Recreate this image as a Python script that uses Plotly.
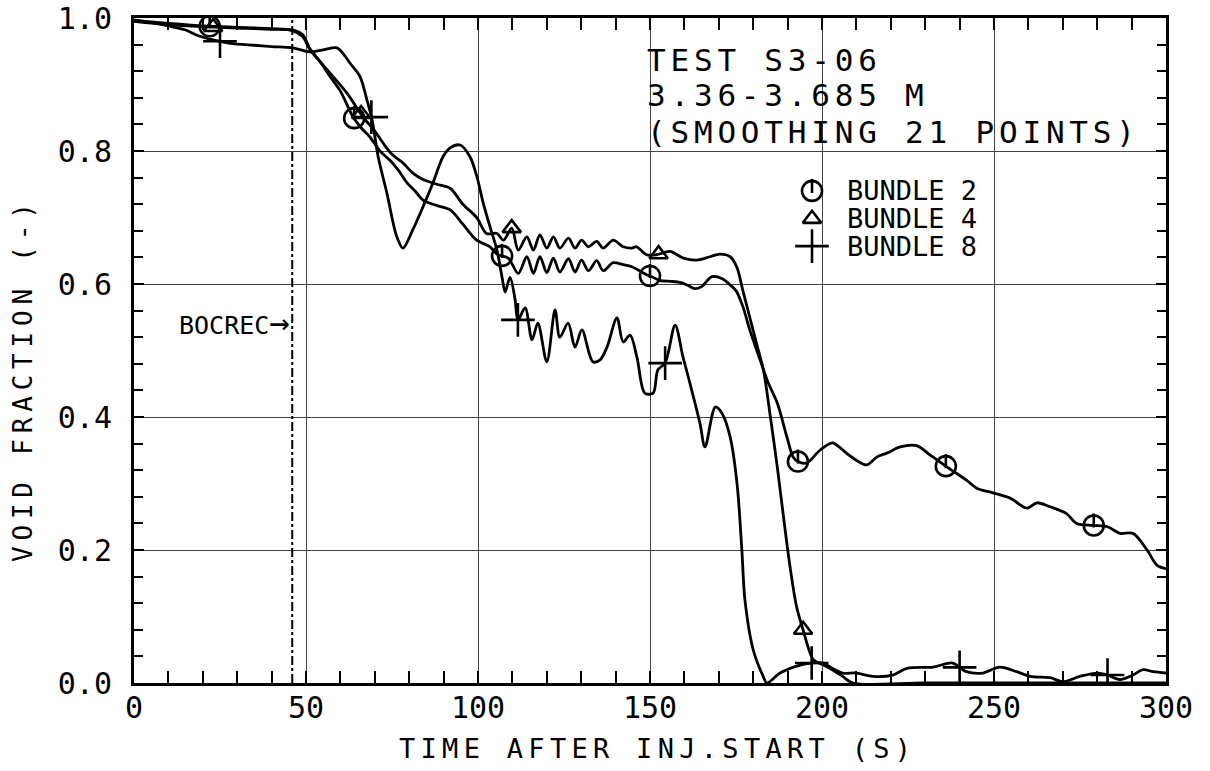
import numpy as np
import plotly.graph_objects as go

# ---------------- data ----------------
t_b2 = [0, 5, 10, 15, 20, 25, 30, 35, 40, 46, 49, 51, 54, 57, 60, 63.5, 66, 68.6, 71.5, 74.4, 77, 79.4, 82, 84, 88,
        92, 95.6, 99.6, 103.5, 105.5, 108.8, 111.7, 114.2, 116.1, 118, 120, 121.9, 123.8, 126.3, 128.2, 130.1, 132.1,
        134.5, 136.4, 139.3, 142.2, 144.7, 149, 150.5, 153, 156, 159, 161, 163, 165, 168, 171, 173, 175, 177, 179,
        182, 184.4, 187, 189.8, 191.6, 193, 195.6, 199.4, 203, 205, 207, 210, 213, 216, 219, 222.7, 227.5, 231.4,
        236.3, 242, 245, 249.7, 254.7, 259.6, 262.5, 266.3, 271, 274, 278.8, 283, 286.6, 290.4, 294.5, 297.4, 300]
v_b2 = [0.996, 0.994, 0.992, 0.990, 0.988, 0.987, 0.986, 0.985, 0.984, 0.982, 0.975, 0.955, 0.935, 0.912, 0.890,
        0.853, 0.835, 0.821, 0.800, 0.786, 0.770, 0.752, 0.738, 0.726, 0.718, 0.711, 0.690, 0.666, 0.656, 0.645,
        0.639, 0.616, 0.641, 0.616, 0.641, 0.617, 0.639, 0.618, 0.638, 0.618, 0.636, 0.620, 0.635, 0.620, 0.632,
        0.629, 0.626, 0.614, 0.611, 0.605, 0.604, 0.602, 0.598, 0.593, 0.596, 0.611, 0.608, 0.600, 0.590, 0.566,
        0.531, 0.486, 0.451, 0.421, 0.370, 0.340, 0.333, 0.331, 0.350, 0.361, 0.355, 0.346, 0.335, 0.328, 0.340,
        0.346, 0.355, 0.357, 0.343, 0.325, 0.305, 0.293, 0.286, 0.278, 0.263, 0.271, 0.265, 0.255, 0.240, 0.237,
        0.235, 0.225, 0.225, 0.200, 0.177, 0.172]

t_b4 = [0, 10, 20, 30, 40, 46, 49, 51.2, 54, 57, 61.9, 66.6, 70, 72.4, 75, 78.2, 81, 84, 88, 91.9, 95.6, 99.6,
        102.5, 105.5, 107.4, 109.8, 111.7, 114.2, 116.1, 118, 120, 121.9, 123.8, 126.3, 128.2, 130.1, 132.1, 134.5,
        136.4, 139.3, 142.2, 144.7, 146.1, 149, 151.9, 155.8, 159.7, 163.6, 167.4, 170.3, 173.3, 175.2, 177, 179,
        181, 183, 185, 187, 188.8, 190.7, 192.6, 194.5, 197.5, 200, 203, 206, 209, 230, 260, 300]
v_b4 = [0.995, 0.990, 0.987, 0.985, 0.983, 0.981, 0.972, 0.952, 0.935, 0.917, 0.887, 0.851, 0.830, 0.812, 0.795,
        0.782, 0.767, 0.757, 0.750, 0.744, 0.720, 0.700, 0.676, 0.676, 0.666, 0.684, 0.651, 0.671, 0.651, 0.674,
        0.654, 0.671, 0.654, 0.669, 0.654, 0.666, 0.656, 0.664, 0.654, 0.666, 0.656, 0.654, 0.656, 0.644, 0.644,
        0.649, 0.639, 0.636, 0.641, 0.645, 0.641, 0.626, 0.590, 0.550, 0.510, 0.470, 0.400, 0.325, 0.250, 0.175,
        0.115, 0.080, 0.035, 0.028, 0.020, 0.010, 0.0, 0.0, 0.0, 0.0]

t_b8 = [0, 5, 10, 15, 18.3, 23, 28, 35, 40, 46.2, 51.2, 55, 59, 61, 62.8, 65.7, 67.7, 69.2, 71, 73.5, 76.4, 78.2, 81,
        84, 86.9, 89.8, 92, 94.8, 97.7, 99.7, 101.5, 103.5, 105.5, 107, 107.9, 109.3, 110.8, 111.6, 113.7, 115.7,
        117.4, 120, 122.4, 123.8, 126.2, 128.2, 130.2, 133.4, 135.5, 137.5, 140.4, 142.2, 144.2, 146.2, 148.5, 150.9,
        152.3, 154.4, 157.3, 159.6, 161.6, 164.5, 166, 169, 171, 173.3, 175.3, 176.7, 177.6, 180, 182.9, 184, 187.8,
        193.6, 197, 200.3, 203, 206, 210, 214.8, 220.6, 224.7, 232.3, 238, 242, 246.8, 251.7, 256.6, 260.5, 266.3,
        270, 275, 280, 283, 286.6, 290.4, 293.3, 296.3, 300]
v_b8 = [0.997, 0.993, 0.988, 0.982, 0.974, 0.967, 0.962, 0.959, 0.957, 0.955, 0.949, 0.952, 0.955, 0.945, 0.932,
        0.912, 0.877, 0.847, 0.791, 0.737, 0.671, 0.654, 0.681, 0.716, 0.752, 0.791, 0.805, 0.809, 0.791, 0.761,
        0.722, 0.686, 0.651, 0.610, 0.588, 0.610, 0.576, 0.546, 0.564, 0.516, 0.541, 0.483, 0.561, 0.520, 0.541,
        0.505, 0.531, 0.483, 0.486, 0.505, 0.549, 0.513, 0.523, 0.490, 0.436, 0.436, 0.471, 0.481, 0.538, 0.490,
        0.451, 0.391, 0.355, 0.415, 0.405, 0.370, 0.300, 0.200, 0.125, 0.050, 0.010, 0.0, 0.015, 0.027, 0.030,
        0.030, 0.022, 0.015, 0.015, 0.010, 0.012, 0.022, 0.024, 0.030, 0.017, 0.015, 0.024, 0.017, 0.010, 0.008,
        0.002, 0.010, 0.015, 0.012, 0.005, 0.012, 0.020, 0.017, 0.015]

mark_t_b2 = [22, 64, 107, 150, 193, 236, 279]
mark_t_b4 = [23, 66, 109.8, 152.5, 194.5]
mark_t_b8 = [25, 69, 111.6, 154.4, 197, 240, 283]

series_names = ["BUNDLE 2", "BUNDLE 4", "BUNDLE 8"]
bocrec_t = 46
x_ticks = [0, 50, 100, 150, 200, 250, 300]
y_ticks = [0.0, 0.2, 0.4, 0.6, 0.8, 1.0]
title_lines = ["TEST S3-06", "3.36-3.685 M", "(SMOOTHING 21 POINTS)"]
x_title = "TIME AFTER INJ.START (S)"
y_title = "VOID FRACTION (-)"

# ---------------- figure ----------------
MONO = "DejaVu Sans Mono"
W, H = 1210, 771
ML, MR, MT, MB = 134, 44, 18, 88
PW, PH = W - ML - MR, H - MT - MB


def spaced(txt, px):
    return f'<span style="letter-spacing:{px}px">{txt}</span>'


def paper_x(px):
    return (px - ML) / PW


def paper_y(py):
    return (H - MB - py) / PH


fig = go.Figure()

line_style = dict(color="black", width=2.8, shape="spline", smoothing=0.9)
for t, v in [(t_b2, v_b2), (t_b4, v_b4), (t_b8, v_b8)]:
    fig.add_trace(go.Scatter(x=t, y=v, mode="lines", line=line_style, showlegend=False, hoverinfo="skip"))

sym = ["circle-open", "triangle-up-open", "cross-thin-open"]
sizes = [20, 16, 24]


def add_markers(xs, ys, s, sz):
    fig.add_trace(go.Scatter(x=xs, y=ys, mode="markers",
                             marker=dict(symbol=s, size=sz, color="black", line=dict(color="black", width=2.6)),
                             showlegend=False, hoverinfo="skip"))
    if s == "circle-open":
        # short vertical stroke from the top of the circle to its centre
        fig.add_trace(go.Scatter(x=xs, y=[y + 5.0 / PH for y in ys], mode="markers",
                                 marker=dict(symbol="line-ns-open", size=10, color="black",
                                             line=dict(color="black", width=2.6)),
                                 showlegend=False, hoverinfo="skip"))


for (t, v, mt), s, sz in zip([(t_b2, v_b2, mark_t_b2), (t_b4, v_b4, mark_t_b4), (t_b8, v_b8, mark_t_b8)], sym, sizes):
    add_markers(mt, list(np.interp(mt, t, v)), s, sz)

# BOCREC dash-dot line
fig.add_trace(go.Scatter(x=[bocrec_t, bocrec_t], y=[0, 1], mode="lines",
                         line=dict(color="black", width=2, dash="dashdot"), showlegend=False, hoverinfo="skip"))

# legend markers + texts
leg_x = 197.1
leg_y = [0.740, 0.698, 0.657]
for s, sz, yy in zip(sym, sizes, leg_y):
    add_markers([leg_x], [yy], s, sz)
for name, yy in zip(series_names, leg_y):
    fig.add_annotation(x=206.7, y=yy, text=name, showarrow=False, xanchor="left", yanchor="middle",
                       font=dict(family=MONO, size=27, color="black"))

# title block
title_y_px = [59.5, 95.5, 132]
for line, ypx in zip(title_lines, title_y_px):
    fig.add_annotation(xref="paper", yref="paper", x=paper_x(645), y=paper_y(ypx),
                       text=spaced(line, 4.8), showarrow=False, xanchor="left", yanchor="middle",
                       font=dict(family=MONO, size=31, color="black"))

fig.add_annotation(x=bocrec_t, y=0.543, text='BOCREC<span style="font-size:34px">→</span>', showarrow=False,
                   xanchor="right", yanchor="middle", font=dict(family=MONO, size=25, color="black"))

# axis titles
fig.add_annotation(xref="paper", yref="paper", x=paper_x(657), y=paper_y(748), text=spaced(x_title, 5.3),
                   showarrow=False, xanchor="center", yanchor="middle",
                   font=dict(family=MONO, size=27, color="black"))
fig.add_annotation(xref="paper", yref="paper", x=paper_x(23), y=paper_y(380), text=spaced(y_title, 5.8),
                   textangle=-90, showarrow=False, xanchor="center", yanchor="middle",
                   font=dict(family=MONO, size=26, color="black"))

axis_common = dict(showline=True, linecolor="black", linewidth=3, mirror="allticks", ticks="inside",
                   tickcolor="black", tickwidth=1.5, showgrid=True, gridcolor="#444", gridwidth=1,
                   zeroline=False, automargin=False, tickfont=dict(family=MONO, size=30, color="black"))

fig.update_xaxes(range=[0, 300], tickvals=x_ticks, ticktext=[str(v) for v in x_ticks], ticklen=12,
                 minor=dict(dtick=10, tick0=0, ticks="inside", ticklen=12, tickcolor="black", showgrid=False),
                 ticklabelstandoff=-4, **axis_common)
fig.update_yaxes(range=[0, 1], tickvals=y_ticks, ticktext=[f"{v:.1f}" for v in y_ticks], ticklen=10,
                 minor=dict(dtick=0.04, tick0=0, ticks="inside", ticklen=9, tickcolor="black", showgrid=False),
                 ticklabelstandoff=13, **axis_common)

fig.update_layout(width=W, height=H, margin=dict(l=ML, r=MR, t=MT, b=MB),
                  paper_bgcolor="white", plot_bgcolor="white", showlegend=False)

fig.write_html("out.html")
